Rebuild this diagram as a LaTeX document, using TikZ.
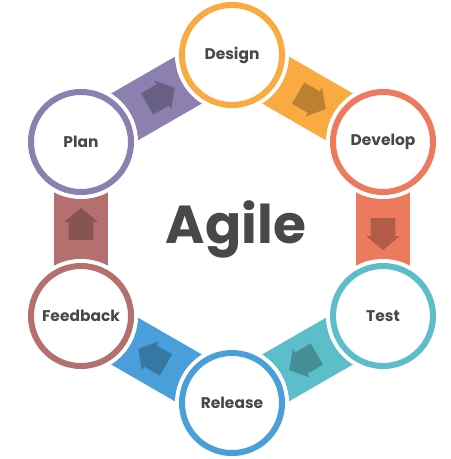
\documentclass[tikz,border=0pt]{standalone}
\usepackage{fontspec}
\setmainfont{Poppins}
\usepackage{tikz}
\usetikzlibrary{positioning,calc,shapes.arrows}
\definecolor{DesignOrange}{RGB}{249,170,64}
\definecolor{DevelopCoral}{RGB}{238,122,94}
\definecolor{TestTeal}{RGB}{92,190,200}
\definecolor{ReleaseBlue}{RGB}{74,159,218}
\definecolor{FeedbackRose}{RGB}{180,112,111}
\definecolor{PlanPurple}{RGB}{139,128,176}
\definecolor{AgileGray}{RGB}{72,72,72}

\begin{document}
\begin{tikzpicture}[x=0.025cm, y=-0.025cm,
                % Style for the phase circles
                phase/.style={circle, draw=#1, fill=white, line width=0.15cm, minimum size=2.5cm, inner sep=0pt,
                              text=AgileGray, font=\bfseries\fontsize{11}{13}\selectfont,
                              preaction={draw=white, line width=0.35cm}},
                % Style for the bands between circles
                band/.style={draw=#1, line width=1.35cm},
                % Style for the small arrow on each band
                flowarrow/.style={single arrow, fill=#1!75!black, draw=none, inner sep=0pt, inner ysep=0.3cm,
                                  minimum height=0.8cm, minimum width=0.82cm, single arrow head extend=0.11cm,
                                  single arrow tip angle=100, single arrow head indent=0pt}
            ]
                \useasboundingbox (0,0) rectangle (451,459);

                % --- PHASE POSITIONS ---
                \coordinate (c-design) at (232, 55);
                \coordinate (c-develop) at (383, 142);
                \coordinate (c-test) at (383, 316);
                \coordinate (c-release) at (232, 403);
                \coordinate (c-feedback) at (81, 316);
                \coordinate (c-plan) at (81, 142);

                % --- BANDS ---
                \draw[band=PlanPurple] (c-plan) -- (c-design);
                \draw[band=DesignOrange] (c-design) -- (c-develop);
                \draw[band=DevelopCoral] (c-develop) -- (c-test);
                \draw[band=TestTeal] (c-test) -- (c-release);
                \draw[band=ReleaseBlue] (c-release) -- (c-feedback);
                \draw[band=FeedbackRose] (c-feedback) -- (c-plan);

                % --- ARROWS ---
                \node[flowarrow=PlanPurple, rotate=30] (a1) at ($(c-plan)!0.5!(c-design)$) {};
                \node[flowarrow=DesignOrange, rotate=-30] (a2) at ($(c-design)!0.5!(c-develop)$) {};
                \node[flowarrow=DevelopCoral, rotate=-90] (a3) at ($(c-develop)!0.5!(c-test)$) {};
                \node[flowarrow=TestTeal, rotate=210] (a4) at ($(c-test)!0.5!(c-release)$) {};
                \node[flowarrow=ReleaseBlue, rotate=150] (a5) at ($(c-release)!0.5!(c-feedback)$) {};
                \node[flowarrow=FeedbackRose, rotate=90] (a6) at ($(c-feedback)!0.5!(c-plan)$) {};

                % --- CIRCLES ---
                \node[phase=DesignOrange] (design) at (c-design) {Design};
                \node[phase=DevelopCoral] (develop) at (c-develop) {Develop};
                \node[phase=TestTeal] (test) at (c-test) {Test};
                \node[phase=ReleaseBlue] (release) at (c-release) {Release};
                \node[phase=FeedbackRose] (feedback) at (c-feedback) {Feedback};
                \node[phase=PlanPurple] (plan) at (c-plan) {Plan};

                % Centre title
                \node[text=AgileGray, font=\bfseries\fontsize{38}{44}\selectfont] (agile) at (236, 229) {Agile};
            \end{tikzpicture}
\end{document}
